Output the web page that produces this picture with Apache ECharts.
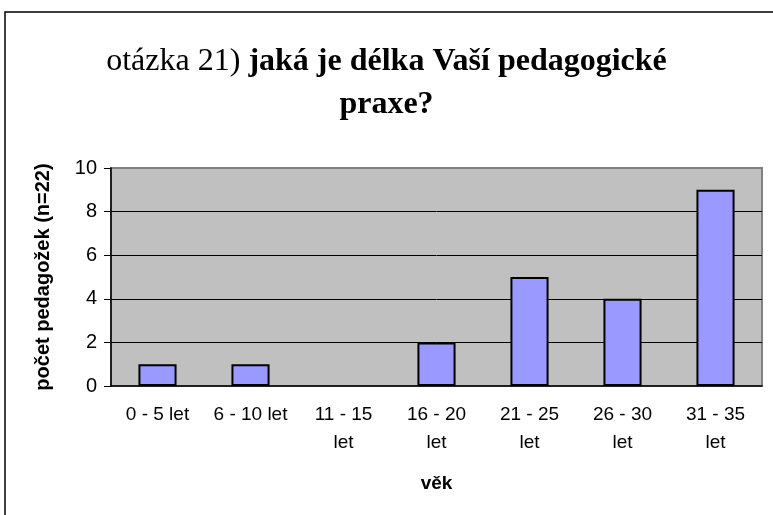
<!DOCTYPE html>
<html>
<head>
<meta charset="utf-8">
<script src="https://cdn.jsdelivr.net/npm/echarts@6/dist/echarts.min.js"></script>
<style>
  html, body { margin: 0; padding: 0; background: #fff; }
  #chart { width: 773px; height: 515px; }
</style>
</head>
<body>
<div id="chart"></div>
<script>
// otázka 21 - délka pedagogické praxe

const categories = ['0 - 5 let', '6 - 10 let', '11 - 15\nlet', '16 - 20\nlet', '21 - 25\nlet', '26 - 30\nlet', '31 - 35\nlet'];
const counts = [1, 1, 0, 2, 5, 4, 9];
const yTicks = [0, 2, 4, 6, 8, 10];

const chartDom = document.getElementById('chart');
let chart = echarts.init(chartDom);

const gridLeft = 111, gridTop = 168, gridRight = 11, gridBottom = 129;

// nulový sloupec bez okraje
const barData = counts.map(function (v) {
    return v === 0 ? { value: v, itemStyle: { borderWidth: 0 } } : v;
});

let option = {
    animation: false,
    backgroundColor: '#fff',
    title: {
        text: '{n|otázka 21) }{b|jaká je délka Vaší pedagogické}\n{b|praxe?}',
        left: 'center',
        top: 35,
        textStyle: {
            fontWeight: 'normal',
            rich: {
                n: { fontFamily: 'Liberation Serif', fontSize: 32, fontWeight: 'normal', color: '#000', lineHeight: 43 },
                b: { fontFamily: 'Liberation Serif', fontSize: 32, fontWeight: 'bold', color: '#000', lineHeight: 43 }
            }
        }
    },
    graphic: [
        {
            // rámeček grafu
            type: 'rect',
            shape: { x: 5, y: 12, width: 800, height: 600 },
            style: { fill: 'none', stroke: '#000', lineWidth: 1.5 },
            silent: true
        }
    ],
    grid: {
        left: gridLeft,
        top: gridTop,
        right: gridRight,
        bottom: gridBottom,
        show: true,
        backgroundColor: '#C0C0C0',
        borderColor: '#808080',
        borderWidth: 2
    },
    xAxis: {
        type: 'category',
        data: categories,
        name: 'věk',
        nameLocation: 'middle',
        nameGap: 88,
        nameTextStyle: { fontFamily: 'Liberation Sans', fontSize: 19, fontWeight: 'bold', color: '#000' },
        axisLine: { lineStyle: { color: '#000', width: 1.5 } },
        axisTick: { alignWithLabel: false, length: 7, lineStyle: { color: '#000' } },
        axisLabel: {
            fontFamily: 'Liberation Sans',
            fontSize: 19,
            color: '#000',
            lineHeight: 28,
            margin: 15,
            interval: 0
        },
        splitLine: { show: false }
    },
    yAxis: {
        type: 'value',
        min: yTicks[0],
        max: yTicks[yTicks.length - 1],
        interval: 2,
        name: 'počet pedagožek (n=22)',
        nameLocation: 'middle',
        nameGap: 58,
        nameTextStyle: { fontFamily: 'Liberation Sans', fontSize: 20, fontWeight: 'bold', color: '#000' },
        axisLine: { show: true, lineStyle: { color: '#000', width: 1.5 } },
        axisTick: { show: true, length: 7, lineStyle: { color: '#000' } },
        axisLabel: {
            fontFamily: 'Liberation Sans',
            fontSize: 20,
            color: '#000',
            margin: 14
        },
        splitLine: { showMinLine: false, showMaxLine: false, lineStyle: { color: '#000', width: 1 } }
    },
    series: [
        {
            type: 'bar',
            data: barData,
            barWidth: '41%',
            itemStyle: { color: '#9999FF', borderColor: '#000', borderWidth: 2 }
        }
    ]
};

option && chart.setOption(option);
</script>
</body>
</html>
